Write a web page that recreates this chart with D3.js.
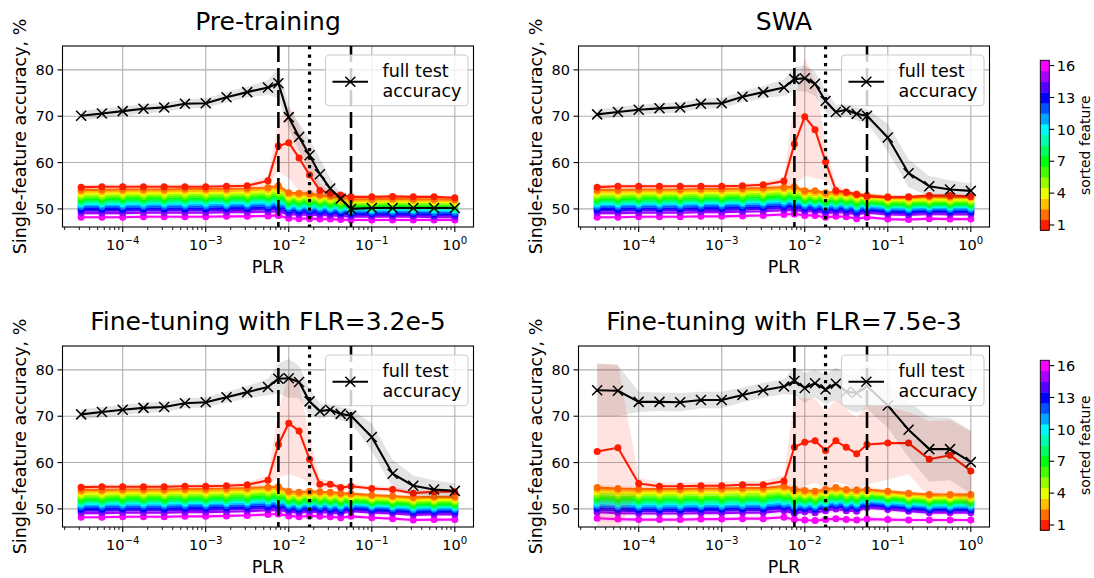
<!DOCTYPE html>
<html>
<head>
<meta charset="utf-8">
<script src="https://cdn.jsdelivr.net/npm/d3@7"></script>
<style>
  body { margin: 0; background: #fff; }
  svg { display: block; }
</style>
</head>
<body>
<script>
// ---------------------------------------------------------------
// Data: single-feature accuracy (%) vs. pre-training learning rate
// ---------------------------------------------------------------
const PLR = [3.16e-5, 5.62e-5, 1e-4, 1.78e-4, 3.16e-4, 5.62e-4, 1e-3, 1.78e-3, 3.16e-3, 5.62e-3,
             7.5e-3, 1e-2, 1.33e-2, 1.78e-2, 2.37e-2, 3.16e-2, 4.22e-2, 5.62e-2,
             0.1, 0.178, 0.316, 0.562, 1];

const plrTicks = [1e-4, 1e-3, 1e-2, 1e-1, 1];
const accTicks = [50, 60, 70, 80];
const featureTicks = [1, 4, 7, 10, 13, 16];
const dashedPLR = [7.5e-3, 5.62e-2];
const dottedPLR = [1.78e-2];
const titles = ["Pre-training", "SWA", "Fine-tuning with FLR=3.2e-5", "Fine-tuning with FLR=7.5e-3"];

// ---- Pre-training ----
const fullPre   = [70.1,70.6,71.1,71.6,71.9,72.7,72.8,74.1,75.2,76.2,77.1,69.8,65.5,61.6,57.5,54.4,52.2,50.0,50.2,50.2,50.2,50.2,50.2];
const fullPreSd = [1.1,1.0,1.0,1.0,1.0,1.0,1.0,1.1,1.2,1.6,3.2,2.4,3.0,3.6,3.4,2.2,1.2,0.5,0.3,0.3,0.3,0.3,0.3];
const topPreSd  = [0.5,0.5,0.5,0.5,0.5,0.5,0.5,0.5,0.6,0.9,5.5,7.7,7.0,4.5,1.5,0.8,0.6,0.5,0.4,0.4,0.4,0.4,0.4];
const restPreSd = [0.4,0.4,0.4,0.4,0.4,0.4,0.4,0.4,0.4,0.5,0.8,0.7,0.6,0.6,0.5,0.5,0.4,0.4,0.4,0.4,0.4,0.4,0.4];
const featPre = [
  [54.7,54.8,54.8,54.8,54.8,54.8,54.8,54.9,55.0,56.1,63.6,64.3,61.0,57.3,54.0,53.4,53.0,52.6,52.6,52.7,52.6,52.6,52.4],
  [54.1,54.1,54.2,54.2,54.2,54.3,54.3,54.3,54.4,54.6,55.0,53.5,53.4,53.3,53.0,52.8,52.5,52.1,52.1,52.2,52.1,52.1,52.0],
  [53.7,53.7,53.8,53.8,53.8,53.9,53.9,53.9,54.0,54.2,54.5,53.1,53.0,52.9,52.7,52.5,52.2,51.8,51.8,51.9,51.8,51.8,51.7],
  [53.3,53.3,53.4,53.4,53.4,53.5,53.5,53.5,53.6,53.8,54.1,52.8,52.6,52.6,52.4,52.2,51.9,51.5,51.5,51.6,51.5,51.5,51.4],
  [52.9,52.9,53.0,53.0,53.0,53.1,53.1,53.1,53.2,53.4,53.6,52.4,52.3,52.2,52.0,51.8,51.6,51.2,51.2,51.3,51.2,51.2,51.1],
  [52.5,52.5,52.6,52.6,52.6,52.7,52.7,52.7,52.8,53.0,53.2,52.0,51.9,51.9,51.7,51.5,51.3,50.9,50.9,51.0,50.9,50.9,50.8],
  [52.1,52.1,52.2,52.2,52.2,52.3,52.3,52.3,52.4,52.6,52.8,51.6,51.6,51.5,51.4,51.2,51.0,50.6,50.6,50.7,50.6,50.6,50.5],
  [51.7,51.7,51.8,51.8,51.8,51.9,51.9,51.9,52.0,52.2,52.4,51.3,51.2,51.2,51.0,50.9,50.7,50.3,50.3,50.4,50.3,50.3,50.2],
  [51.4,51.4,51.5,51.5,51.5,51.5,51.6,51.6,51.7,51.8,52.0,51.0,50.9,50.9,50.7,50.6,50.4,50.1,50.1,50.2,50.1,50.1,50.0],
  [51.1,51.1,51.1,51.2,51.2,51.2,51.3,51.3,51.3,51.5,51.7,50.7,50.6,50.6,50.5,50.3,50.2,49.9,49.9,49.9,49.9,49.8,49.8],
  [50.8,50.8,50.8,50.8,50.9,50.9,50.9,50.9,51.0,51.1,51.3,50.4,50.3,50.3,50.2,50.0,49.9,49.6,49.6,49.6,49.6,49.5,49.5],
  [50.4,50.4,50.4,50.5,50.5,50.5,50.5,50.6,50.6,50.7,50.9,50.0,50.0,49.9,49.8,49.7,49.6,49.3,49.3,49.3,49.3,49.2,49.2],
  [50.0,50.0,50.0,50.1,50.1,50.1,50.1,50.2,50.2,50.3,50.5,49.7,49.6,49.6,49.5,49.4,49.2,49.0,49.0,49.0,49.0,48.9,48.9],
  [49.6,49.6,49.6,49.7,49.7,49.7,49.7,49.8,49.8,49.9,50.0,49.3,49.2,49.2,49.1,49.0,48.9,48.7,48.7,48.7,48.7,48.6,48.6],
  [49.1,49.1,49.1,49.2,49.2,49.2,49.2,49.3,49.3,49.4,49.5,48.8,48.8,48.7,48.7,48.6,48.5,48.3,48.3,48.3,48.3,48.2,48.2],
  [48.2,48.2,48.2,48.3,48.3,48.3,48.3,48.4,48.4,48.5,48.6,48.0,47.9,47.9,47.8,47.8,47.7,47.6,47.6,47.6,47.6,47.6,47.6]
];

// ---- SWA ----
const fullSwa   = [70.4,70.9,71.4,71.7,71.9,72.7,72.8,74.2,75.2,76.2,78.0,78.2,77.0,73.3,70.9,71.4,70.5,70.1,65.4,57.7,54.9,54.2,53.9];
const fullSwaSd = [1.1,1.1,1.1,1.1,1.1,1.1,1.1,1.2,1.3,1.8,2.6,2.8,2.6,2.4,1.6,1.4,1.4,1.5,3.0,3.0,2.2,2.0,1.6];
const topSwaSd  = [0.5,0.5,0.5,0.5,0.5,0.5,0.5,0.5,0.6,0.9,9.0,12.8,10.5,4.0,1.2,0.8,0.6,0.5,0.5,0.5,0.5,0.5,0.5];
const restSwaSd = [0.4,0.4,0.4,0.4,0.4,0.4,0.4,0.4,0.4,0.5,0.8,0.7,0.6,0.6,0.5,0.5,0.4,0.4,0.4,0.4,0.4,0.4,0.4];
const featSwa = [
  [54.7,54.9,54.9,54.9,54.9,54.9,54.9,55.0,55.2,56.0,64.0,69.9,67.1,60.2,54.0,53.6,53.1,52.7,52.5,52.6,52.9,52.9,52.7],
  [54.1,54.1,54.2,54.2,54.2,54.3,54.3,54.4,54.5,54.7,54.8,53.9,53.9,53.5,53.7,53.6,53.2,53.0,52.6,52.5,52.7,52.6,52.6],
  [53.7,53.7,53.8,53.8,53.8,53.9,53.9,54.0,54.1,54.3,54.4,53.5,53.5,53.1,53.3,53.2,52.8,52.7,52.3,52.2,52.4,52.3,52.3],
  [53.3,53.3,53.4,53.4,53.4,53.5,53.5,53.6,53.7,53.9,54.0,53.2,53.2,52.8,53.0,52.9,52.5,52.4,52.0,51.9,52.1,52.0,52.0],
  [52.9,52.9,53.0,53.0,53.0,53.1,53.1,53.2,53.3,53.5,53.6,52.8,52.8,52.4,52.6,52.5,52.1,52.1,51.7,51.6,51.8,51.7,51.7],
  [52.5,52.5,52.6,52.6,52.6,52.7,52.7,52.8,52.9,53.1,53.2,52.5,52.5,52.1,52.3,52.2,51.8,51.8,51.4,51.3,51.5,51.4,51.4],
  [52.1,52.1,52.2,52.2,52.2,52.3,52.3,52.4,52.5,52.7,52.8,52.1,52.1,51.7,51.9,51.8,51.4,51.5,51.1,51.0,51.2,51.1,51.1],
  [51.7,51.7,51.8,51.8,51.8,51.9,51.9,52.0,52.1,52.3,52.4,51.8,51.8,51.4,51.6,51.5,51.1,51.2,50.8,50.7,50.9,50.8,50.8],
  [51.4,51.4,51.5,51.5,51.5,51.6,51.6,51.7,51.8,52.0,52.1,51.5,51.5,51.1,51.3,51.2,50.8,51.0,50.6,50.5,50.7,50.6,50.6],
  [51.1,51.1,51.2,51.2,51.2,51.3,51.3,51.4,51.5,51.7,51.8,51.3,51.3,50.9,51.1,51.0,50.6,50.8,50.4,50.3,50.5,50.4,50.4],
  [50.8,50.8,50.9,50.9,50.9,51.0,51.0,51.1,51.2,51.4,51.5,51.0,51.0,50.6,50.8,50.7,50.3,50.5,50.1,50.0,50.2,50.1,50.1],
  [50.4,50.4,50.5,50.5,50.5,50.6,50.6,50.7,50.8,51.0,51.1,50.6,50.6,50.2,50.4,50.3,49.9,50.2,49.8,49.7,49.9,49.8,49.8],
  [50.0,50.0,50.1,50.1,50.1,50.2,50.2,50.3,50.4,50.6,50.7,50.3,50.3,49.9,50.1,50.0,49.6,49.9,49.5,49.4,49.6,49.5,49.5],
  [49.6,49.6,49.7,49.7,49.7,49.8,49.8,49.9,50.0,50.2,50.3,49.9,49.9,49.5,49.7,49.6,49.2,49.6,49.2,49.1,49.3,49.2,49.2],
  [49.1,49.1,49.2,49.2,49.2,49.3,49.3,49.4,49.5,49.7,49.8,49.5,49.5,49.1,49.3,49.2,48.8,49.2,48.8,48.7,48.9,48.8,48.8],
  [48.2,48.2,48.3,48.3,48.3,48.4,48.4,48.5,48.6,48.8,48.9,48.6,48.6,48.2,48.4,48.3,47.9,48.2,47.8,47.7,47.9,47.8,47.8]
];

// ---- Fine-tuning, FLR = 3.2e-5 ----
const fullFtLow   = [70.4,70.9,71.4,71.8,72.0,72.8,73.0,74.1,75.2,76.3,78.1,78.2,77.4,73.2,71.1,71.4,70.5,70.1,65.5,57.6,55.0,54.2,53.9];
const fullFtLowSd = [1.1,1.1,1.1,1.1,1.1,1.1,1.1,1.2,1.3,1.8,3.2,4.2,3.5,2.8,1.6,1.4,1.4,1.5,3.0,3.0,2.2,2.0,1.6];
const topFtLowSd  = [0.5,0.5,0.5,0.5,0.5,0.5,0.5,0.5,0.6,1.0,7.0,11.0,10.0,5.0,1.2,0.8,0.7,0.6,0.6,0.6,0.6,0.6,0.6];
const restFtLowSd = [0.4,0.4,0.4,0.4,0.4,0.4,0.4,0.4,0.4,0.5,0.8,0.7,0.6,0.6,0.5,0.5,0.4,0.4,0.4,0.4,0.4,0.4,0.4];
const featFtLow = [
  [54.7,54.8,54.8,54.8,54.8,54.9,54.9,55.0,55.2,56.2,63.9,68.5,66.8,60.7,55.3,55.3,54.6,54.9,54.4,54.2,53.4,53.7,53.7],
  [54.1,54.1,54.2,54.2,54.2,54.3,54.3,54.4,54.5,54.7,54.8,53.8,53.6,53.8,53.7,53.6,53.4,53.3,53.0,52.8,52.5,52.6,52.6],
  [53.7,53.7,53.8,53.8,53.8,53.9,53.9,54.0,54.1,54.3,54.4,53.4,53.2,53.4,53.3,53.2,53.0,53.0,52.7,52.5,52.2,52.3,52.3],
  [53.3,53.3,53.4,53.4,53.4,53.5,53.5,53.6,53.7,53.9,54.0,53.1,52.9,53.1,53.0,52.9,52.7,52.7,52.4,52.2,51.9,52.0,52.0],
  [52.9,52.9,53.0,53.0,53.0,53.1,53.1,53.2,53.3,53.5,53.6,52.7,52.5,52.7,52.6,52.5,52.3,52.4,52.1,51.9,51.6,51.7,51.7],
  [52.5,52.5,52.6,52.6,52.6,52.7,52.7,52.8,52.9,53.1,53.2,52.4,52.2,52.4,52.3,52.2,52.0,52.1,51.8,51.6,51.3,51.4,51.4],
  [52.1,52.1,52.2,52.2,52.2,52.3,52.3,52.4,52.5,52.7,52.8,52.0,51.8,52.0,51.9,51.8,51.6,51.8,51.5,51.3,51.0,51.1,51.1],
  [51.7,51.7,51.8,51.8,51.8,51.9,51.9,52.0,52.1,52.3,52.4,51.7,51.5,51.7,51.6,51.5,51.3,51.5,51.2,51.0,50.7,50.8,50.8],
  [51.4,51.4,51.5,51.5,51.5,51.6,51.6,51.7,51.8,52.0,52.1,51.4,51.2,51.4,51.3,51.2,51.0,51.3,51.0,50.8,50.5,50.6,50.6],
  [51.1,51.1,51.2,51.2,51.2,51.3,51.3,51.4,51.5,51.7,51.8,51.2,51.0,51.2,51.1,51.0,50.8,51.1,50.8,50.6,50.3,50.4,50.4],
  [50.8,50.8,50.9,50.9,50.9,51.0,51.0,51.1,51.2,51.4,51.5,50.9,50.7,50.9,50.8,50.7,50.5,50.8,50.5,50.3,50.0,50.1,50.1],
  [50.4,50.4,50.5,50.5,50.5,50.6,50.6,50.7,50.8,51.0,51.1,50.5,50.3,50.5,50.4,50.3,50.1,50.5,50.2,50.0,49.7,49.8,49.8],
  [50.0,50.0,50.1,50.1,50.1,50.2,50.2,50.3,50.4,50.6,50.7,50.2,50.0,50.2,50.1,50.0,49.8,50.2,49.9,49.7,49.4,49.5,49.5],
  [49.6,49.6,49.7,49.7,49.7,49.8,49.8,49.9,50.0,50.2,50.3,49.8,49.6,49.8,49.7,49.6,49.4,49.9,49.6,49.4,49.1,49.2,49.2],
  [49.1,49.1,49.2,49.2,49.2,49.3,49.3,49.4,49.5,49.7,49.8,49.4,49.2,49.4,49.3,49.2,49.0,49.5,49.2,49.0,48.7,48.8,48.8],
  [48.2,48.2,48.3,48.3,48.3,48.4,48.4,48.5,48.6,48.8,48.9,48.5,48.3,48.5,48.4,48.3,48.1,48.4,48.1,47.9,47.6,47.7,47.7]
];

// ---- Fine-tuning, FLR = 7.5e-3 ----
const fullFtHigh   = [75.6,75.5,73.1,73.1,73.0,73.5,73.5,74.6,75.6,76.4,77.6,76.1,77.1,75.8,77.0,75.3,75.0,76.5,72.3,67.1,62.9,62.9,60.1];
const fullFtHighSd = [5.7,5.5,2.2,2.0,2.0,1.8,1.8,1.6,1.6,1.6,3.0,3.2,3.0,3.2,3.5,3.8,4.2,4.9,4.8,6.0,7.0,6.7,6.8];
const topFtHighSd  = [19.0,18.0,1.2,0.8,0.8,0.8,0.8,0.8,0.8,1.2,10.6,9.5,9.0,8.4,8.9,8.2,7.7,8.6,7.9,6.7,8.2,7.6,8.5];
const restFtHighSd = [0.7,0.6,0.5,0.5,0.5,0.5,0.5,0.5,0.5,0.6,0.8,0.7,0.7,0.7,0.7,0.6,0.6,0.6,0.5,0.5,0.5,0.5,0.5];
const featFtHigh = [
  [62.4,63.2,55.5,54.9,54.9,55.0,55.0,55.2,55.2,56.0,63.3,64.4,64.7,62.6,64.7,63.3,61.9,63.9,64.2,64.2,60.7,61.6,58.2],
  [54.6,54.4,54.3,54.3,54.3,54.4,54.4,54.5,54.5,54.9,54.3,54.0,53.8,54.2,54.6,54.2,54.1,54.2,53.8,53.4,53.1,53.1,53.1],
  [54.2,54.0,53.9,53.9,53.9,54.0,54.0,54.1,54.1,54.5,53.9,53.6,53.4,53.8,54.2,53.8,53.7,53.9,53.5,53.1,52.8,52.8,52.8],
  [53.7,53.5,53.4,53.4,53.4,53.5,53.5,53.6,53.6,54.0,53.4,53.3,53.1,53.5,53.9,53.5,53.4,53.6,53.2,52.8,52.5,52.5,52.5],
  [53.3,53.1,53.0,53.0,53.0,53.1,53.1,53.2,53.2,53.6,53.0,52.9,52.7,53.1,53.5,53.1,53.0,53.3,52.9,52.5,52.2,52.2,52.2],
  [52.8,52.6,52.5,52.5,52.5,52.6,52.6,52.7,52.7,53.1,52.5,52.5,52.3,52.7,53.1,52.7,52.6,53.0,52.6,52.2,51.9,51.9,51.9],
  [52.4,52.2,52.1,52.1,52.1,52.2,52.2,52.3,52.3,52.7,52.1,52.2,52.0,52.4,52.8,52.4,52.3,52.7,52.3,51.9,51.6,51.6,51.6],
  [52.0,51.8,51.7,51.7,51.7,51.8,51.8,51.9,51.9,52.3,51.7,51.8,51.6,52.0,52.4,52.0,51.9,52.4,52.0,51.6,51.3,51.3,51.3],
  [51.6,51.4,51.3,51.3,51.3,51.4,51.4,51.5,51.5,51.9,51.3,51.5,51.3,51.7,52.1,51.7,51.6,52.1,51.7,51.3,51.0,51.0,51.0],
  [51.3,51.1,51.0,51.0,51.0,51.1,51.1,51.2,51.2,51.6,51.0,51.2,51.0,51.4,51.8,51.4,51.3,51.9,51.5,51.1,50.8,50.8,50.8],
  [50.9,50.7,50.6,50.6,50.6,50.7,50.7,50.8,50.8,51.2,50.6,50.9,50.7,51.1,51.5,51.1,51.0,51.6,51.2,50.8,50.5,50.5,50.5],
  [50.6,50.4,50.3,50.3,50.3,50.4,50.4,50.5,50.5,50.9,50.3,50.5,50.3,50.7,51.1,50.7,50.6,51.3,50.9,50.5,50.2,50.2,50.2],
  [50.2,50.0,49.9,49.9,49.9,50.0,50.0,50.1,50.1,50.5,49.9,50.2,50.0,50.4,50.8,50.4,50.3,51.0,50.6,50.2,49.9,49.9,49.9],
  [49.8,49.6,49.5,49.5,49.5,49.6,49.6,49.7,49.7,50.1,49.5,49.9,49.7,50.1,50.5,50.1,50.0,50.7,50.3,49.9,49.6,49.6,49.6],
  [49.3,49.1,49.0,49.0,49.0,49.1,49.1,49.2,49.2,49.6,49.0,49.4,49.2,49.6,50.0,49.6,49.5,50.3,49.9,49.5,49.2,49.2,49.2],
  [48.0,47.8,47.7,47.7,47.7,47.8,47.8,47.9,47.9,48.2,47.7,47.6,47.5,47.7,47.9,47.7,47.6,47.8,47.7,47.6,47.6,47.6,47.6]
];

// ---------------------------------------------------------------
// Colour map (gist_rainbow) used for the sorted features
// ---------------------------------------------------------------
const rainbowStops = [
  [0.000, [1.00, 0.00, 0.16]], [0.030, [1.00, 0.00, 0.00]], [0.215, [1.00, 1.00, 0.00]],
  [0.400, [0.00, 1.00, 0.00]], [0.586, [0.00, 1.00, 1.00]], [0.770, [0.00, 0.00, 1.00]],
  [0.954, [1.00, 0.00, 1.00]], [1.000, [1.00, 0.00, 0.75]]
];
function rainbow(t) {
  for (let i = 1; i < rainbowStops.length; i++) {
    const [t1, c1] = rainbowStops[i], [t0, c0] = rainbowStops[i - 1];
    if (t <= t1) {
      const f = (t - t0) / (t1 - t0);
      const c = c0.map((v, j) => Math.round(255 * (v + f * (c1[j] - v))));
      return d3.rgb(c[0], c[1], c[2]).formatHex();
    }
  }
  return "#ff00bf";
}
const nFeatures = 16;
const featureColor = k => rainbow(0.05 + 0.9 * (k - 1) / (nFeatures - 1));  // k = 1..16

// ---------------------------------------------------------------
// Layout
// ---------------------------------------------------------------
const W = 1094, H = 578;
const PW = 411, PH = 181;
const panelDefs = [
  { full: fullPre,    fullSd: fullPreSd,    feats: featPre,    topSd: topPreSd,    restSd: restPreSd,    left: 62.5,  top: 46 },
  { full: fullSwa,    fullSd: fullSwaSd,    feats: featSwa,    topSd: topSwaSd,    restSd: restSwaSd,    left: 578.5, top: 46 },
  { full: fullFtLow,  fullSd: fullFtLowSd,  feats: featFtLow,  topSd: topFtLowSd,  restSd: restFtLowSd,  left: 62.5,  top: 346 },
  { full: fullFtHigh, fullSd: fullFtHighSd, feats: featFtHigh, topSd: topFtHighSd, restSd: restFtHighSd, left: 578.5, top: 346 }
];
const FONT = "'DejaVu Sans', 'Noto Sans', sans-serif";

const svg = d3.select("body").append("svg")
  .attr("width", W).attr("height", H)
  .style("font-family", FONT);

svg.append("rect").attr("width", W).attr("height", H).attr("fill", "#fff");

const defs = svg.append("defs");

function crossPath(cx, cy, s) {
  return `M${cx - s},${cy - s}L${cx + s},${cy + s}M${cx - s},${cy + s}L${cx + s},${cy - s}`;
}

panelDefs.forEach((p, pi) => {
  const x = d3.scaleLog().domain([Math.pow(10, -4.725), Math.pow(10, 0.225)]).range([p.left, p.left + PW]);
  const y = d3.scaleLinear().domain([46.1, 85.15]).range([p.top + PH, p.top]);
  const g = svg.append("g");
  const clipId = "clip" + pi;
  defs.append("clipPath").attr("id", clipId)
    .append("rect").attr("x", p.left).attr("y", p.top).attr("width", PW).attr("height", PH);

  // grid
  const grid = g.append("g").attr("stroke", "#b0b0b0").attr("stroke-width", 1.1);
  plrTicks.forEach(v => grid.append("line")
    .attr("x1", x(v)).attr("x2", x(v)).attr("y1", p.top).attr("y2", p.top + PH));
  accTicks.forEach(v => grid.append("line")
    .attr("x1", p.left).attr("x2", p.left + PW).attr("y1", y(v)).attr("y2", y(v)));

  const plot = g.append("g").attr("clip-path", `url(#${clipId})`);
  const idx = d3.range(PLR.length);

  // sorted features, last one first so feature 1 ends on top
  for (let k = nFeatures; k >= 1; k--) {
    const mean = p.feats[k - 1];
    const sd = k === 1 ? p.topSd : p.restSd;
    const col = featureColor(k);
    const area = d3.area()
      .x(i => x(PLR[i])).y0(i => y(mean[i] - sd[i])).y1(i => y(mean[i] + sd[i]));
    plot.append("path").attr("d", area(idx)).attr("fill", col).attr("fill-opacity", 0.12);
    const line = d3.line().x(i => x(PLR[i])).y(i => y(mean[i]));
    plot.append("path").attr("d", line(idx)).attr("fill", "none")
      .attr("stroke", col).attr("stroke-width", 2.1).attr("stroke-linejoin", "round");
    plot.append("g").selectAll("circle").data(idx).join("circle")
      .attr("cx", i => x(PLR[i])).attr("cy", i => y(mean[i])).attr("r", 3.5).attr("fill", col);
  }

  // full test accuracy
  const fArea = d3.area()
    .x(i => x(PLR[i])).y0(i => y(p.full[i] - p.fullSd[i])).y1(i => y(p.full[i] + p.fullSd[i]));
  plot.append("path").attr("d", fArea(idx)).attr("fill", "#000").attr("fill-opacity", 0.11);
  plot.append("path").attr("d", d3.line().x(i => x(PLR[i])).y(i => y(p.full[i]))(idx))
    .attr("fill", "none").attr("stroke", "#000").attr("stroke-width", 2.1).attr("stroke-linejoin", "round");
  plot.append("path")
    .attr("d", idx.map(i => crossPath(x(PLR[i]), y(p.full[i]), 5)).join(""))
    .attr("stroke", "#000").attr("stroke-width", 1.5).attr("fill", "none");

  // reference learning rates
  dashedPLR.forEach(v => plot.append("line")
    .attr("x1", x(v)).attr("x2", x(v)).attr("y1", p.top).attr("y2", p.top + PH)
    .attr("stroke", "#000").attr("stroke-width", 2.6).attr("stroke-dasharray", "16,6"));
  dottedPLR.forEach(v => plot.append("line")
    .attr("x1", x(v)).attr("x2", x(v)).attr("y1", p.top).attr("y2", p.top + PH)
    .attr("stroke", "#000").attr("stroke-width", 3.2).attr("stroke-dasharray", "3.2,5.3"));

  // legend
  const lx = p.left + PW - 148, ly = p.top + 9;
  const lg = g.append("g");
  lg.append("rect").attr("x", lx).attr("y", ly).attr("width", 142.5).attr("height", 50.7)
    .attr("rx", 4).attr("fill", "#fff").attr("fill-opacity", 0.8)
    .attr("stroke", "#cccccc").attr("stroke-width", 1.1);
  lg.append("line").attr("x1", lx + 7).attr("x2", lx + 42.5)
    .attr("y1", ly + 26.7).attr("y2", ly + 26.7).attr("stroke", "#000").attr("stroke-width", 2.1);
  lg.append("path").attr("d", crossPath(lx + 24.8, ly + 26.7, 5))
    .attr("stroke", "#000").attr("stroke-width", 1.5);
  lg.append("text").attr("x", lx + 57).attr("y", ly + 21.7).style("font-size", "17.5px").text("full test");
  lg.append("text").attr("x", lx + 57).attr("y", ly + 41.7).style("font-size", "17.5px").text("accuracy");

  // frame
  g.append("rect").attr("x", p.left).attr("y", p.top).attr("width", PW).attr("height", PH)
    .attr("fill", "none").attr("stroke", "#000").attr("stroke-width", 1.1);

  // x ticks (major + minor)
  const tk = g.append("g").attr("stroke", "#000");
  const [d0, d1] = x.domain();
  for (let e = -5; e <= 0; e++) {
    for (let m = 2; m <= 9; m++) {
      const v = m * Math.pow(10, e);
      if (v < d0 || v > d1) continue;
      tk.append("line").attr("x1", x(v)).attr("x2", x(v))
        .attr("y1", p.top + PH).attr("y2", p.top + PH + 3).attr("stroke-width", 0.9);
    }
  }
  plrTicks.forEach(v => {
    tk.append("line").attr("x1", x(v)).attr("x2", x(v))
      .attr("y1", p.top + PH).attr("y2", p.top + PH + 5).attr("stroke-width", 1.1);
    const e = Math.round(Math.log10(v));
    const t = g.append("text").attr("x", x(v)).attr("y", p.top + PH + 23)
      .attr("text-anchor", "middle").style("font-size", "14.5px");
    t.append("tspan").text("10");
    t.append("tspan").attr("dy", -6).style("font-size", "10.2px").text(e < 0 ? "\u2212" + (-e) : String(e));
  });
  accTicks.forEach(v => {
    tk.append("line").attr("x1", p.left - 5).attr("x2", p.left)
      .attr("y1", y(v)).attr("y2", y(v)).attr("stroke-width", 1.1);
    g.append("text").attr("x", p.left - 8.5).attr("y", y(v)).attr("dy", "0.36em")
      .attr("text-anchor", "end").style("font-size", "14.5px").text(v);
  });

  // axis titles
  g.append("text").attr("x", p.left + PW / 2).attr("y", p.top + PH + 46.3)
    .attr("text-anchor", "middle").style("font-size", "17.5px").text("PLR");
  g.append("text")
    .attr("transform", `translate(${p.left - 37},${p.top + PH / 2}) rotate(-90)`)
    .attr("text-anchor", "middle").style("font-size", "17.5px").text("Single-feature accuracy, %");
  g.append("text").attr("x", p.left + PW / 2).attr("y", p.top - 15.6)
    .attr("text-anchor", "middle").style("font-size", "25px").text(titles[pi]);
});

// ---------------------------------------------------------------
// Colour bars (one per row)
// ---------------------------------------------------------------
[60.3, 360.3].forEach(top => {
  const cbH = 170, cbW = 9, cbX = 1040.3;
  const cy = d3.scaleLinear().domain([0.5, nFeatures + 0.5]).range([top + cbH, top]);
  const g = svg.append("g");
  for (let k = 1; k <= nFeatures; k++) {
    g.append("rect").attr("x", cbX).attr("y", cy(k + 0.5)).attr("width", cbW)
      .attr("height", cy(k - 0.5) - cy(k + 0.5) + 0.4).attr("fill", featureColor(k));
  }
  g.append("rect").attr("x", cbX).attr("y", top).attr("width", cbW).attr("height", cbH)
    .attr("fill", "none").attr("stroke", "#000").attr("stroke-width", 0.9);
  featureTicks.forEach(v => {
    g.append("line").attr("x1", cbX + cbW).attr("x2", cbX + cbW + 5)
      .attr("y1", cy(v)).attr("y2", cy(v)).attr("stroke", "#000").attr("stroke-width", 1.1);
    g.append("text").attr("x", cbX + cbW + 7.5).attr("y", cy(v)).attr("dy", "0.36em")
      .style("font-size", "14.5px").text(v);
  });
  g.append("text")
    .attr("transform", `translate(${1090},${top + cbH / 2}) rotate(-90)`)
    .attr("text-anchor", "middle").style("font-size", "14px").text("sorted feature");
});
</script>
</body>
</html>
